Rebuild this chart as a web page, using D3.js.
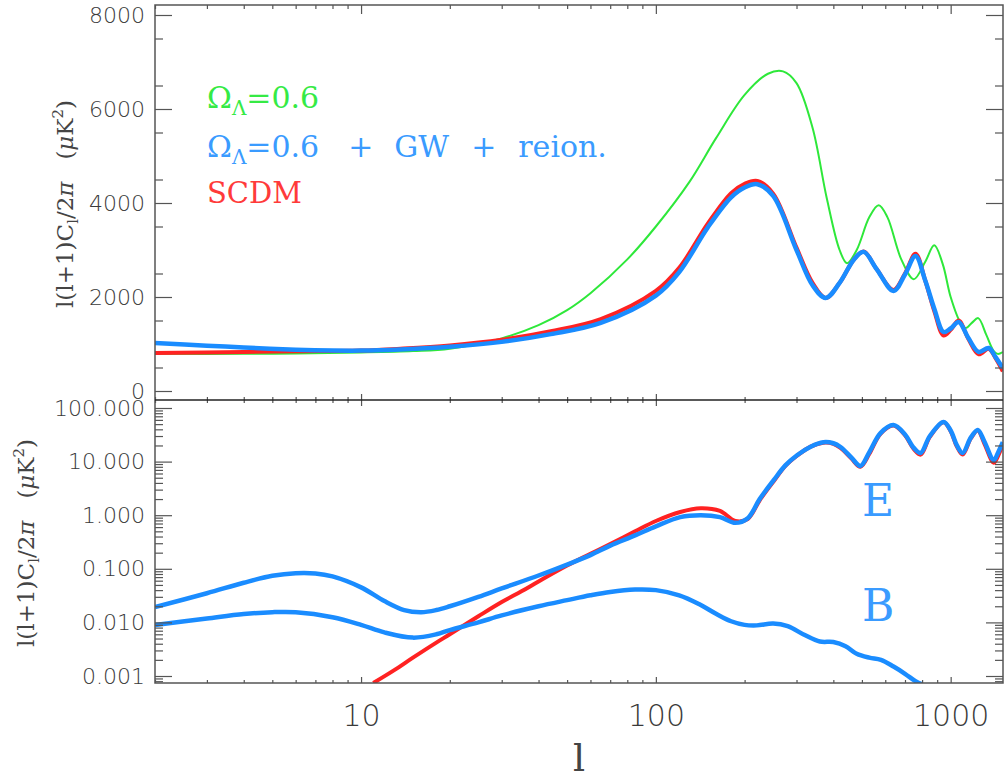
<!DOCTYPE html>
<html>
<head>
<meta charset="utf-8">
<script src="https://cdn.jsdelivr.net/npm/d3@7"></script>
<style>
  body { margin: 0; background: #fff; }
  svg { display: block; }
</style>
</head>
<body>
<svg id="chart" width="1005" height="782"></svg>
<script>
// ---- temperature spectrum (top panel) ----
const ttGreenL = [2, 4, 6, 10, 15, 20, 30, 40, 50, 60, 80, 100, 130, 160, 200, 240, 270, 300, 340, 380, 420, 445, 480, 530, 570, 610, 680, 750, 820, 880, 940, 1000, 1080, 1125, 1180, 1240, 1320, 1400, 1445, 1503]
const ttGreen = [790, 790, 800, 820, 850, 900, 1120, 1400, 1720, 2080, 2800, 3500, 4450, 5380, 6300, 6750, 6800, 6550, 5600, 4100, 3000, 2720, 3000, 3700, 3950, 3700, 2800, 2380, 2750, 3100, 2700, 2000, 1450, 1340, 1450, 1550, 1200, 850, 790, 830]

const ttRedL = [2, 4, 6, 10, 13.6, 20, 30, 44, 65, 100, 120, 150, 180, 200, 221, 250, 300, 340, 377, 420, 470, 507, 560, 640, 700, 760, 820, 880, 946, 1000, 1064, 1150, 1245, 1346, 1420, 1503]
const ttRed = [810, 830, 845, 860, 900, 970, 1090, 1270, 1530, 2130, 2620, 3560, 4210, 4410, 4470, 4200, 3050, 2300, 1980, 2300, 2800, 2970, 2600, 2150, 2500, 2920, 2350, 1700, 1180, 1300, 1500, 1100, 780, 900, 700, 420]

const ttBlueL = [2, 3, 4, 6, 8, 10, 13.6, 20, 30, 44, 65, 100, 120, 150, 180, 200, 221, 250, 300, 340, 377, 420, 470, 507, 560, 640, 700, 760, 820, 880, 946, 1000, 1064, 1150, 1245, 1346, 1420, 1503]
const ttBlue = [1020, 965, 925, 880, 862, 860, 885, 940, 1045, 1210, 1450, 2030, 2530, 3480, 4120, 4330, 4400, 4150, 3000, 2250, 1980, 2300, 2800, 2960, 2600, 2130, 2480, 2870, 2350, 1750, 1255, 1330, 1470, 1120, 830, 915, 720, 490]

// ---- polarization spectra (bottom panel) ----
const eBlueL = [2, 3, 4, 5, 6, 7, 8, 10, 12, 14, 16, 18, 20, 25, 30, 40, 50, 60, 70, 85, 100, 121, 142, 165, 186, 205, 225, 251, 275, 302, 335, 370, 400, 423, 460, 494, 530, 578, 640, 700, 750, 791, 850, 946, 1000, 1050, 1098, 1170, 1236, 1300, 1400, 1450, 1503]
const eBlue = [0.0194, 0.035, 0.055, 0.074, 0.083, 0.082, 0.072, 0.045, 0.025, 0.017, 0.0155, 0.017, 0.020, 0.030, 0.043, 0.075, 0.12, 0.18, 0.27, 0.42, 0.62, 0.92, 1.0, 0.92, 0.72, 0.88, 2.0, 4.5, 8.5, 13.3, 19, 23, 22, 18.7, 12, 8.3, 15, 34, 48, 32, 18, 14.5, 30, 55, 38, 20, 14.5, 28, 39, 24, 10.7, 15, 23]

const eRedL = [11, 13, 15, 18, 20, 25, 30, 35, 40, 50, 60, 70, 85, 100, 121, 142, 165, 186, 205, 225, 251, 275, 302, 335, 370, 400, 423, 460, 494, 530, 578, 640, 700, 750, 791, 850, 946, 1000, 1050, 1098, 1170, 1236, 1300, 1400, 1450, 1503]
const eRed = [0.00074, 0.0013, 0.0022, 0.0042, 0.0060, 0.013, 0.024, 0.038, 0.058, 0.115, 0.19, 0.29, 0.50, 0.78, 1.15, 1.35, 1.2, 0.78, 0.85, 1.9, 4.3, 8.3, 13, 19, 22.5, 21.5, 18, 11.5, 8.0, 14, 33, 47, 31, 17, 13.5, 29, 54, 37, 19, 13.5, 27, 38, 22, 9.5, 13, 21]

const bBlueL = [2, 3, 4, 5, 6, 8, 10, 12, 15, 18, 20, 25, 30, 40, 50, 60, 70, 85, 100, 120, 140, 160, 180, 200, 220, 250, 280, 320, 360, 400, 440, 480, 530, 580, 640, 700, 760, 800]
const bBlue = [0.0089, 0.0118, 0.0143, 0.0155, 0.0155, 0.0125, 0.0090, 0.0065, 0.0052, 0.0060, 0.0072, 0.0100, 0.0135, 0.020, 0.026, 0.032, 0.037, 0.041, 0.040, 0.032, 0.022, 0.0145, 0.0105, 0.0090, 0.0088, 0.0095, 0.0085, 0.0058, 0.0044, 0.0043, 0.0036, 0.0026, 0.0022, 0.0020, 0.0015, 0.0011, 0.0008, 0.0007]

// ---- ticks ----
const xMajor = [10, 100, 1000]
const xLabels = ['10', '100', '1000']
const topMajor = [0, 2000, 4000, 6000, 8000]
const topLabels = ['0', '2000', '4000', '6000', '8000']
const botMajor = [0.001, 0.01, 0.1, 1, 10, 100]
const botLabels = ['0.001', '0.010', '0.100', '1.000', '10.000', '100.000']

const green = '#2ee83a'
const blue = '#1a8cff'
const red = '#ff2222'
const axisCol = '#555'
const tickFont = 'DejaVu Sans'

const svg = d3.select('#chart')
const left = 155, right = 1003
const topY0 = 5, midY = 400, botY1 = 683

const x = d3.scaleLog().domain([2, 1505]).range([left, right])
const yTop = d3.scaleLinear().domain([0, 8000]).range([391, 15])
const yBot = d3.scaleLog().domain([0.001, 100]).range([676, 408])

// clip paths
const defs = svg.append('defs')
defs.append('clipPath').attr('id', 'clipTop').append('rect')
  .attr('x', left).attr('y', topY0).attr('width', right - left).attr('height', midY - topY0)
defs.append('clipPath').attr('id', 'clipBot').append('rect')
  .attr('x', left).attr('y', midY).attr('width', right - left).attr('height', botY1 - midY)

function zip(a, b) {
  return a.map(function (d, i) { return [d, b[i]] })
}

const lineTop = d3.line()
  .x(function (d) { return x(d[0]) })
  .y(function (d) { return yTop(d[1]) })
  .curve(d3.curveCatmullRom.alpha(0.5))
const lineBot = d3.line()
  .x(function (d) { return x(d[0]) })
  .y(function (d) { return yBot(d[1]) })
  .curve(d3.curveCatmullRom.alpha(0.5))

const gTop = svg.append('g').attr('clip-path', 'url(#clipTop)')
gTop.append('path').attr('d', lineTop(zip(ttGreenL, ttGreen))).attr('fill', 'none').attr('stroke', green).attr('stroke-width', 2)
gTop.append('path').attr('d', lineTop(zip(ttRedL, ttRed))).attr('fill', 'none').attr('stroke', red).attr('stroke-width', 4)
gTop.append('path').attr('d', lineTop(zip(ttBlueL, ttBlue))).attr('fill', 'none').attr('stroke', blue).attr('stroke-width', 4.5)

const gBot = svg.append('g').attr('clip-path', 'url(#clipBot)')
gBot.append('path').attr('d', lineBot(zip(eRedL, eRed))).attr('fill', 'none').attr('stroke', red).attr('stroke-width', 4)
gBot.append('path').attr('d', lineBot(zip(eBlueL, eBlue))).attr('fill', 'none').attr('stroke', blue).attr('stroke-width', 4.5)
gBot.append('path').attr('d', lineBot(zip(bBlueL, bBlue))).attr('fill', 'none').attr('stroke', blue).attr('stroke-width', 4.5)

// minor tick values
let xMinor = []
for (let dec = 1; dec <= 1000; dec *= 10) {
  for (let k = 2; k <= 9; k++) {
    if (k * dec >= 2 && k * dec <= 1500) xMinor.push(k * dec)
  }
}
let topMinor = d3.range(500, 8001, 1000)
let botMinor = []
for (let p = -4; p <= 2; p++) {
  for (let k = 2; k <= 9; k++) {
    let v = k * Math.pow(10, p)
    if (v > 0.00075 && v < 140) botMinor.push(v)
  }
}

function tickGroup(axis, tx, ty) {
  const g = svg.append('g').attr('transform', 'translate(' + tx + ',' + ty + ')').call(axis)
  g.select('.domain').remove()
  g.selectAll('line').attr('stroke', axisCol).attr('stroke-width', 1.2)
  return g
}

function styleLabels(g, size) {
  g.selectAll('text').attr('font-family', tickFont).attr('font-weight', 300)
    .attr('font-size', size).attr('fill', '#3a3a3a')
}

// x ticks: top edge (down), divider (both ways), bottom edge (up)
tickGroup(d3.axisTop(x).tickValues(xMinor).tickSize(-4).tickFormat(''), 0, topY0)
tickGroup(d3.axisTop(x).tickValues(xMajor).tickSize(-9).tickFormat(''), 0, topY0)
tickGroup(d3.axisTop(x).tickValues(xMinor).tickSize(3).tickFormat(''), 0, midY)
tickGroup(d3.axisBottom(x).tickValues(xMinor).tickSize(3).tickFormat(''), 0, midY)
tickGroup(d3.axisTop(x).tickValues(xMajor).tickSize(6).tickFormat(''), 0, midY)
tickGroup(d3.axisBottom(x).tickValues(xMajor).tickSize(6).tickFormat(''), 0, midY)
tickGroup(d3.axisBottom(x).tickValues(xMinor).tickSize(-3).tickFormat(''), 0, botY1)
const xAx = tickGroup(d3.axisBottom(x).tickValues(xMajor).tickSize(-6).tickPadding(22)
  .tickFormat(function (d, i) { return xLabels[i] }), 0, botY1)
styleLabels(xAx, 30)

// top y ticks
tickGroup(d3.axisLeft(yTop).tickValues(topMinor).tickSize(-8).tickFormat(''), left, 0)
tickGroup(d3.axisRight(yTop).tickValues(topMinor).tickSize(-8).tickFormat(''), right, 0)
tickGroup(d3.axisRight(yTop).tickValues(topMajor).tickSize(-17).tickFormat(''), right, 0)
const yTopAx = tickGroup(d3.axisLeft(yTop).tickValues(topMajor).tickSize(-17).tickPadding(10)
  .tickFormat(function (d, i) { return topLabels[i] }), left, 0)
styleLabels(yTopAx, 22)

// bottom y ticks
tickGroup(d3.axisLeft(yBot).tickValues(botMinor).tickSize(-8).tickFormat(''), left, 0)
tickGroup(d3.axisRight(yBot).tickValues(botMinor).tickSize(-8).tickFormat(''), right, 0)
tickGroup(d3.axisRight(yBot).tickValues(botMajor).tickSize(-17).tickFormat(''), right, 0)
const yBotAx = tickGroup(d3.axisLeft(yBot).tickValues(botMajor).tickSize(-17).tickPadding(10)
  .tickFormat(function (d, i) { return botLabels[i] }), left, 0)
styleLabels(yBotAx, 22)

// frames
svg.append('rect').attr('x', left).attr('y', topY0).attr('width', right - left).attr('height', botY1 - topY0)
  .attr('fill', 'none').attr('stroke', axisCol).attr('stroke-width', 1.5)
svg.append('line').attr('x1', left).attr('x2', right).attr('y1', midY).attr('y2', midY)
  .attr('stroke', '#222').attr('stroke-width', 1.5)

// axis titles
function yTitle(cx, cy) {
  const t = svg.append('text')
    .attr('transform', 'translate(' + cx + ',' + cy + ') rotate(-90)')
    .attr('text-anchor', 'middle')
    .attr('font-family', 'DejaVu Serif').attr('font-size', 23).attr('fill', '#444')
    .attr('xml:space', 'preserve')
  t.append('tspan').text('l(l+1)C')
  t.append('tspan').attr('font-size', 15).attr('dy', 5).text('l')
  t.append('tspan').attr('dy', -5).text('/2')
  t.append('tspan').attr('font-style', 'italic').text('π')
  t.append('tspan').text('   (')
  t.append('tspan').attr('font-style', 'italic').text('μ')
  t.append('tspan').text('K')
  t.append('tspan').attr('font-size', 15).attr('dy', -10).text('2')
  t.append('tspan').attr('dy', 10).text(')')
}
yTitle(73, 204)
yTitle(34, 543)

svg.append('text').attr('x', (left + right) / 2).attr('y', 771).attr('text-anchor', 'middle')
  .attr('font-family', 'DejaVu Serif').attr('font-size', 38).attr('fill', '#444').text('l')

// legend
function omegaText(yb, col) {
  const t = svg.append('text').attr('x', 207).attr('y', yb)
    .attr('font-family', 'DejaVu Serif').attr('font-size', 30).attr('fill', col)
  t.append('tspan').text('Ω')
  t.append('tspan').attr('font-size', 20).attr('dy', 7).text('Λ')
  t.append('tspan').attr('dy', -7).text('=0.6')
  return t
}
omegaText(108, '#35ea45')
const blueLeg = omegaText(157, '#3a9bff')
blueLeg.append('tspan').attr('dx', 29).text('+')
blueLeg.append('tspan').attr('dx', 21).text('GW')
blueLeg.append('tspan').attr('dx', 22).text('+')
blueLeg.append('tspan').attr('dx', 22).text('reion.')
svg.append('text').attr('x', 207).attr('y', 203)
  .attr('font-family', 'DejaVu Serif').attr('font-size', 29).attr('fill', '#ff3a3a').text('SCDM')

svg.append('text').attr('x', 862).attr('y', 516)
  .attr('font-family', 'DejaVu Serif').attr('font-size', 44).attr('fill', '#3a9bff').text('E')
svg.append('text').attr('x', 862).attr('y', 621)
  .attr('font-family', 'DejaVu Serif').attr('font-size', 44).attr('fill', '#3a9bff').text('B')
</script>
</body>
</html>
